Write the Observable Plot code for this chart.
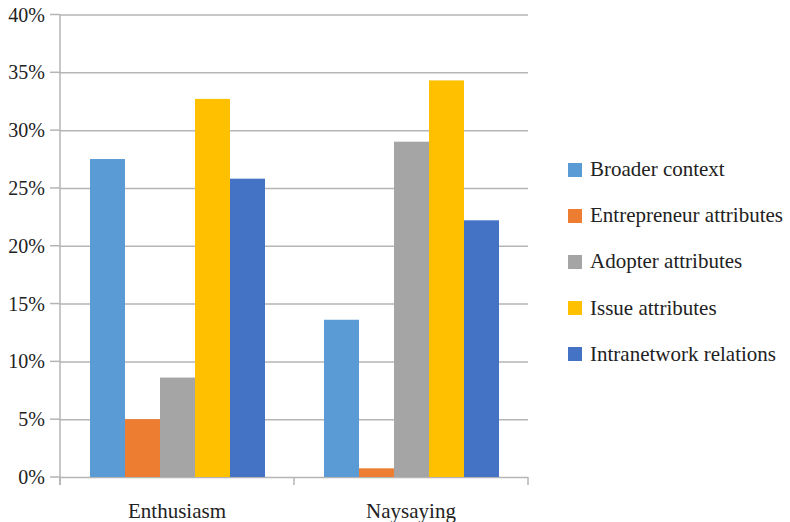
<!DOCTYPE html>
<html>
<head>
<meta charset="utf-8">
<script src="https://cdn.jsdelivr.net/npm/d3@7"></script>
<script src="https://cdn.jsdelivr.net/npm/@observablehq/plot@0.6"></script>
<style>
  html, body { margin: 0; padding: 0; background: #fff; }
  #wrap { position: relative; width: 790px; height: 522px; }
  #legend { position: absolute; left: 568px; top: 0; font-family: "Liberation Serif", "Times New Roman", Times, "DejaVu Serif", serif; font-size: 21px; color: #222; }
  .item { position: absolute; left: 0; white-space: nowrap; display: flex; align-items: center; }
  .sw { width: 14px; height: 14px; margin-right: 8px; display: inline-block; }
  svg text { font-family: "Liberation Serif", "Times New Roman", Times, "DejaVu Serif", serif; }
</style>
</head>
<body>
<div id="wrap"><div id="chart"></div><div id="legend"></div></div>
<script>
const categories = ["Enthusiasm", "Naysaying"];
const series = ["Broader context", "Entrepreneur attributes", "Adopter attributes", "Issue attributes", "Intranetwork relations"];
const enthusiasm = [0.275, 0.050, 0.086, 0.327, 0.258];
const naysaying = [0.136, 0.0075, 0.290, 0.343, 0.222];
const colors = ["#5B9BD5", "#ED7D31", "#A5A5A5", "#FFC000", "#4472C4"];
const yTicks = [0, 0.05, 0.10, 0.15, 0.20, 0.25, 0.30, 0.35, 0.40];

const valuesByCategory = [enthusiasm, naysaying];
const rows = categories.flatMap((c, i) => series.map((s, j) => ({category: c, series: s, value: valuesByCategory[i][j]})));

const axisColor = "#b5b5b5";
const serif = "'Liberation Serif', 'Times New Roman', Times, 'DejaVu Serif', serif";

const chart = Plot.plot({
  width: 560,
  height: 522,
  marginLeft: 59,
  marginRight: 32,
  marginTop: 14.5,
  marginBottom: 45,
  style: {fontFamily: serif, fontSize: "20px", color: "#222", background: "white", overflow: "visible"},
  fx: {domain: categories, padding: 0, label: null, axis: null},
  x: {domain: series, paddingInner: 0, paddingOuter: 0.757, axis: null},
  y: {domain: [0, 0.4], label: null, axis: null},
  color: {domain: series, range: colors},
  marks: [
    Plot.ruleY(yTicks, {stroke: axisColor, strokeWidth: 1.5}),
    Plot.barY(rows, {fx: "category", x: "series", y: "value", fill: "series"})
  ]
});
document.getElementById("chart").appendChild(chart);

// Axes chrome drawn from the plot's own scales
const svg = d3.select(chart);
const fx = chart.scale("fx");
const y = chart.scale("y");
const y0 = y.apply(0), yTop = y.apply(0.4);
const left = fx.apply(categories[0]);
const bounds = [left, ...categories.map(c => fx.apply(c) + fx.bandwidth)];
const g = svg.append("g").attr("font-family", serif);
// y-axis line
g.append("line").attr("x1", left).attr("x2", left).attr("y1", yTop).attr("y2", y0 + 8)
  .attr("stroke", axisColor).attr("stroke-width", 1.5);
// y ticks and labels
yTicks.forEach(t => {
  const yy = y.apply(t);
  g.append("line").attr("x1", left - 10).attr("x2", left).attr("y1", yy).attr("y2", yy)
    .attr("stroke", axisColor).attr("stroke-width", 1.5);
  g.append("text").attr("x", left - 15).attr("y", yy).attr("dy", "0.35em")
    .attr("text-anchor", "end").attr("fill", "#222").attr("font-size", 20)
    .text(d3.format(".0%")(t));
});
// category boundary ticks
bounds.forEach(b => {
  g.append("line").attr("x1", b).attr("x2", b).attr("y1", y0).attr("y2", y0 + 8)
    .attr("stroke", axisColor).attr("stroke-width", 1.5);
});
// category labels
categories.forEach(c => {
  g.append("text").attr("x", fx.apply(c) + fx.bandwidth / 2).attr("y", y0 + 34)
    .attr("dy", "0.35em").attr("text-anchor", "middle").attr("fill", "#222").attr("font-size", 21)
    .text(c);
});

// Legend
const legend = document.getElementById("legend");
series.forEach((s, i) => {
  const item = document.createElement("div");
  item.className = "item";
  item.style.top = (157 + i * 46.2) + "px";
  const sw = document.createElement("span");
  sw.className = "sw";
  sw.style.background = colors[i];
  item.appendChild(sw);
  item.appendChild(document.createTextNode(s));
  legend.appendChild(item);
});
</script>
</body>
</html>
